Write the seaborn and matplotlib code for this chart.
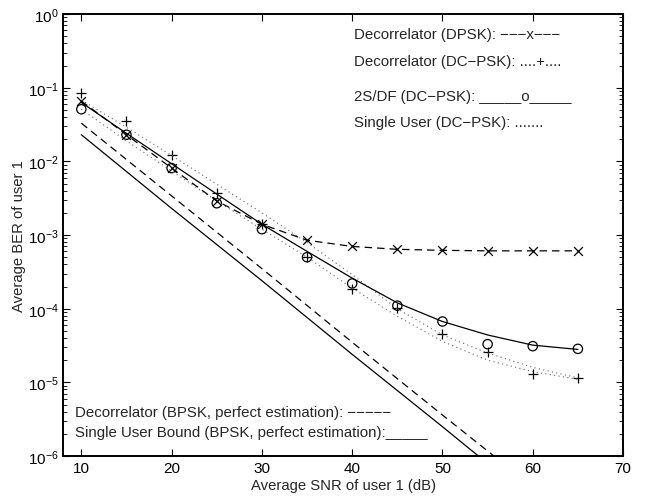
import numpy as np
import pandas as pd
import matplotlib
matplotlib.use("Agg")
import matplotlib.pyplot as plt
import seaborn as sns
from matplotlib.ticker import LogLocator, NullFormatter

# ---------------------------------------------------------------
# values (SNR in dB, BER)
# ---------------------------------------------------------------
snr = [10, 15, 20, 25, 30, 35, 40, 45, 50, 55, 60, 65]

# Decorrelator (DPSK) : dashed line with x markers
dpsk_ber = [0.066, 0.023, 0.0081, 0.0029, 0.0014, 8.5e-4,
            7.0e-4, 6.4e-4, 6.2e-4, 6.1e-4, 6.1e-4, 6.1e-4]

# Decorrelator (DC-PSK) : + markers (simulation) and dotted curve
dcpsk_sim = [0.085, 0.035, 0.0122, 0.0037, 0.0014, 5.0e-4,
             1.85e-4, 1.02e-4, 4.5e-5, 2.6e-5, 1.3e-5, 1.14e-5]
dcpsk_curve = [0.068, 0.029, 0.012, 0.0049, 0.0020, 7.9e-4,
               2.9e-4, 1.0e-4, 4.4e-5, 2.5e-5, 1.6e-5, 1.15e-5]

# 2S/DF (DC-PSK) : o markers (simulation) and solid curve
sdf_sim = [0.051, 0.023, 0.0081, 0.0027, 0.0012, 5.0e-4,
           2.2e-4, 1.1e-4, 6.7e-5, 3.3e-5, 3.1e-5, 2.85e-5]
sdf_curve = [0.063, 0.024, 0.0093, 0.0036, 0.0014, 6.0e-4,
             2.6e-4, 1.2e-4, 6.7e-5, 4.4e-5, 3.2e-5, 2.8e-5]

# Single User (DC-PSK) : dotted curve, no markers
su_dcpsk = [0.051, 0.019, 0.0074, 0.0029, 0.0012, 5.0e-4,
            1.9e-4, 7.9e-5, 3.6e-5, 2.0e-5, 1.4e-5, 1.1e-5]

# BPSK with perfect estimation : straight lines
snr_bpsk = [10, 20, 30, 40, 50, 60]
dec_bpsk = [0.033, 3.4e-3, 3.5e-4, 3.5e-5, 3.6e-6, 3.8e-7]
su_bpsk = [0.023, 2.3e-3, 2.4e-4, 2.4e-5, 2.5e-6, 2.5e-7]

x_ticks = [10, 20, 30, 40, 50, 60, 70]
y_ticks = [1e-6, 1e-5, 1e-4, 1e-3, 1e-2, 1e-1, 1e0]

upper_labels = ["Decorrelator (DPSK): \u2212\u2212\u2212x\u2212\u2212\u2212",
                "Decorrelator (DC\u2212PSK): ....+....",
                "2S/DF (DC\u2212PSK): _____o_____",
                "Single User (DC\u2212PSK): ......."]
upper_y = [0.955, 0.894, 0.815, 0.755]
lower_labels = ["Decorrelator (BPSK, perfect estimation): \u2212\u2212\u2212\u2212\u2212",
                "Single User Bound (BPSK, perfect estimation):_____"]
lower_y = [0.0985, 0.0535]

sns.set_style("ticks")
plt.rcParams['font.family'] = ['Liberation Sans', 'DejaVu Sans']
plt.rcParams['mathtext.fontset'] = 'custom'
plt.rcParams['mathtext.rm'] = 'Liberation Sans'
plt.rcParams['mathtext.it'] = 'Liberation Sans'

fig = plt.figure(figsize=(6.49, 5.02), dpi=100)
ax = fig.add_axes([0.0975, 0.0896, 0.8625, 0.8804])

dotted = (0, (1, 3))
dashed = (0, (6, 4))

# curves
sns.lineplot(x=snr_bpsk, y=su_bpsk, ax=ax, color='k', linewidth=0.9)
sns.lineplot(x=snr_bpsk, y=dec_bpsk, ax=ax, color='k', linewidth=0.9, linestyle=dashed)
sns.lineplot(x=snr, y=su_dcpsk, ax=ax, color='0.4', linewidth=0.8, linestyle=dotted)
sns.lineplot(x=snr, y=dcpsk_curve, ax=ax, color='0.4', linewidth=0.8, linestyle=dotted)
sns.lineplot(x=snr, y=sdf_curve, ax=ax, color='k', linewidth=0.9)
sns.lineplot(x=snr, y=dpsk_ber, ax=ax, color='k', linewidth=0.9, linestyle=dashed)

# markers
sns.scatterplot(x=snr, y=dpsk_ber, ax=ax, marker='x', color='k', s=40, linewidth=0.9)
sns.scatterplot(x=snr, y=dcpsk_sim, ax=ax, marker='+', color='k', s=55, linewidth=0.9)
sns.scatterplot(x=snr, y=sdf_sim, ax=ax, marker='o', facecolors='none',
                edgecolor='k', s=45, linewidth=0.9)

ax.set_yscale('log')
ax.set_xlim(8, 70)
ax.set_ylim(1e-6, 1)
ax.set_xticks(x_ticks)
ax.set_yticks(y_ticks)
ax.yaxis.set_minor_locator(LogLocator(base=10, subs=np.arange(2, 10), numticks=10))
ax.yaxis.set_minor_formatter(NullFormatter())

ax.tick_params(which='both', direction='in', top=True, right=True,
               labelsize=11, colors='k')
ax.tick_params(which='major', length=5, width=0.8)
ax.tick_params(which='minor', length=3, width=0.6)
for sp in ax.spines.values():
    sp.set_visible(True)
    sp.set_linewidth(1.4)
    sp.set_color('k')

ax.set_xlabel("Average SNR of user 1 (dB)", fontsize=10.7, labelpad=2)
ax.set_ylabel("Average BER of user 1", fontsize=10.7, labelpad=1)

# text legend
for t, yy in zip(upper_labels, upper_y):
    ax.text(0.52, yy, t, transform=ax.transAxes,
            fontsize=10.8, va='center', ha='left')
for t, yy in zip(lower_labels, lower_y):
    ax.text(0.0214, yy, t, transform=ax.transAxes,
            fontsize=10.8, va='center', ha='left')

fig.savefig("out.png", dpi=100)
